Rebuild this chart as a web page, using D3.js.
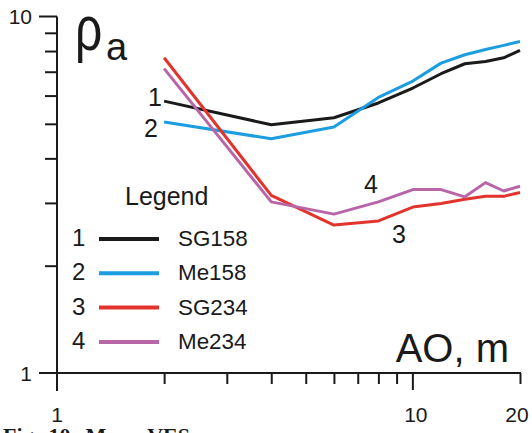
<!DOCTYPE html>
<html>
<head>
<meta charset="utf-8">
<script src="https://cdn.jsdelivr.net/npm/d3@7"></script>
<style>
  body { margin: 0; background: #fff; }
  svg { display: block; }
  text { font-family: "Liberation Sans", Arial, sans-serif; fill: #1a1a1a; }
  .axis path, .axis line { stroke: #1a1a1a; stroke-width: 2; }
</style>
</head>
<body>
<svg id="chart" width="532" height="433"></svg>
<script>
// AO distances (m) and apparent resistivity per sounding
const ao     = [2, 4, 6, 8, 10, 12, 14, 16, 18, 20];
const sg158  = [5.79, 4.97, 5.20, 5.72, 6.30, 6.91, 7.37, 7.48, 7.66, 8.03];
const me158  = [5.06, 4.54, 4.90, 5.93, 6.59, 7.40, 7.81, 8.08, 8.30, 8.51];
const sg234  = [7.66, 3.15, 2.60, 2.67, 2.92, 2.99, 3.07, 3.13, 3.13, 3.21];
const me234  = [7.14, 3.02, 2.79, 3.02, 3.27, 3.27, 3.12, 3.42, 3.24, 3.34];

const seriesNames  = ['SG158', 'Me158', 'SG234', 'Me234'];
const seriesNums   = ['1', '2', '3', '4'];
const seriesColors = ['#1a1a1a', '#1b9de0', '#e2342d', '#b866a8'];
const seriesValues = [sg158, me158, sg234, me234];

const xMinor = [2, 3, 4, 5, 6, 7, 8, 9, 20];
const xMajor = [1, 10];
const xLabels = [1, 10, 20];
const yMinor = [2, 3, 4, 5, 6, 7, 8, 9];
const yLabels = [1, 10];

const svg = d3.select('#chart');

const x = d3.scaleLog().domain([1, 20]).range([57, 520]);
const y = d3.scaleLog().domain([1, 10]).range([373, 16.5]);

const axes = svg.append('g').attr('class', 'axis');

// minor ticks
svg.append('g')
  .attr('class', 'axis')
  .attr('transform', `translate(0,${y(1)})`)
  .call(d3.axisBottom(x).tickValues(xMinor).tickSize(11).tickFormat(''))
  .call(g => g.select('.domain').remove());

svg.append('g')
  .attr('class', 'axis')
  .attr('transform', `translate(${x(1)},0)`)
  .call(d3.axisLeft(y).tickValues(yMinor).tickSize(12).tickFormat(''))
  .call(g => g.select('.domain').remove());

// axis lines, extended past the origin as the "1" ticks
axes.append('line')
  .attr('x1', x(1) - 18).attr('x2', x(20) + 1)
  .attr('y1', y(1)).attr('y2', y(1));
axes.append('line')
  .attr('x1', x(1)).attr('x2', x(1))
  .attr('y1', y(10)).attr('y2', y(1) + 18);
axes.append('line')
  .attr('x1', x(1) - 18).attr('x2', x(1))
  .attr('y1', y(10)).attr('y2', y(10));
axes.selectAll('.xmaj')
  .data(xMajor.slice(1))
  .enter().append('line')
    .attr('x1', d => x(d)).attr('x2', d => x(d))
    .attr('y1', y(1)).attr('y2', y(1) + 17);

// tick labels
svg.selectAll('.xlab')
  .data(xLabels)
  .enter().append('text')
    .attr('x', d => x(d) + (d === 20 ? -3 : d === 10 ? 3 : 0))
    .attr('y', 422)
    .attr('text-anchor', 'middle')
    .style('font-size', '21px')
    .text(d => d);

svg.selectAll('.ylab')
  .data(yLabels)
  .enter().append('text')
    .attr('x', 32)
    .attr('y', d => y(d) + 7.5)
    .attr('text-anchor', 'end')
    .style('font-size', '21px')
    .text(d => d);

// axis titles
svg.append('text')
  .attr('transform', 'translate(75,50) scale(0.8,1.05)')
  .style('font-size', '60px')
  .text('ρ');
svg.append('text')
  .attr('x', 106).attr('y', 60)
  .style('font-size', '38px')
  .text('a');
svg.append('text')
  .attr('x', 509).attr('y', 362)
  .attr('text-anchor', 'end')
  .style('font-size', '40px')
  .text('AO, m');

// curves
const line = d3.line()
  .x((d, i) => x(ao[i]))
  .y(d => y(d));

svg.selectAll('.curve')
  .data(seriesValues)
  .enter().append('path')
    .attr('class', 'curve')
    .attr('d', line)
    .attr('fill', 'none')
    .attr('stroke', (d, i) => seriesColors[i])
    .attr('stroke-width', 3)
    .attr('stroke-linejoin', 'round');

// curve numbers
const curveLabels = [
  { t: '1', x: 148, y: 106 },
  { t: '2', x: 144, y: 137 },
  { t: '3', x: 392, y: 243 },
  { t: '4', x: 364, y: 193 }
];
svg.selectAll('.clab')
  .data(curveLabels)
  .enter().append('text')
    .attr('x', d => d.x).attr('y', d => d.y)
    .style('font-size', '25px')
    .text(d => d.t);

// legend
const legend = svg.append('g');
legend.append('text')
  .attr('x', 125).attr('y', 205)
  .style('font-size', '25px')
  .text('Legend');

const rows = legend.selectAll('.row')
  .data(seriesNames)
  .enter().append('g')
    .attr('transform', (d, i) => `translate(0,${246 + i * 34.3})`);

rows.append('text')
  .attr('x', 72).attr('y', 0)
  .style('font-size', '24px')
  .text((d, i) => seriesNums[i]);
rows.append('line')
  .attr('x1', 99).attr('x2', 159)
  .attr('y1', -7).attr('y2', -7)
  .attr('stroke', (d, i) => seriesColors[i])
  .attr('stroke-width', 4);
rows.append('text')
  .attr('x', 178).attr('y', 0)
  .style('font-size', '22.4px')
  .text(d => d);

// caption, cut by the bottom edge as in the source figure
svg.append('text')
  .attr('x', 3).attr('y', 443)
  .style('font-family', '"Liberation Serif", serif')
  .style('font-weight', 'bold')
  .style('font-size', '22px')
  .style('word-spacing', '4px')
  .text('Fig. 10. Maps VES');
</script>
</body>
</html>
